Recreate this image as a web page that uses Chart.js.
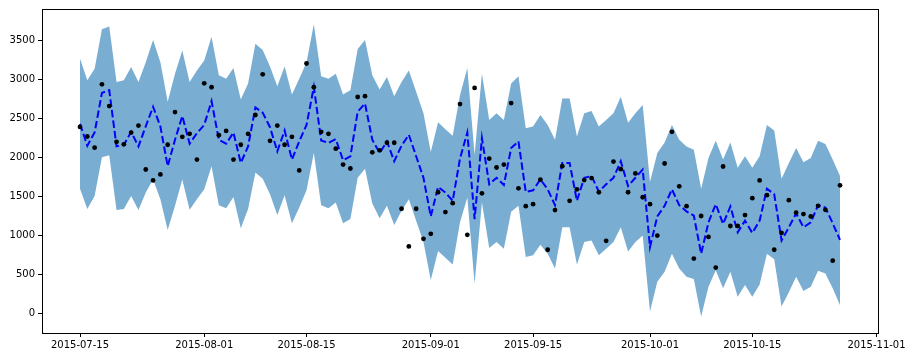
<!DOCTYPE html>
<html>
<head>
<meta charset="utf-8">
<title>Forecast</title>
<script src="https://cdn.jsdelivr.net/npm/chart.js@4.4.0/dist/chart.umd.min.js"></script>
<style>
  html, body { margin: 0; padding: 0; background: #fff; }
</style>
</head>
<body>
<canvas id="forecastChart" width="916" height="361"></canvas>
<script>
// Daily values, day 0 = 2015-07-15
const actual = [
  2391, 2268, 2124, 2938, 2658, 2200, 2167, 2319, 2408, 1844,
  1704, 1781, 2162, 2582, 2264, 2302, 1972, 2951, 2900, 2285,
  2340, 1972, 2162, 2302, 2544, 3066, 2213, 2408, 2162, 2264,
  1832, 3205, 2900, 2328, 2302, 2112, 1908, 1857, 2775, 2786,
  2065, 2090, 2188, 2188, 1340, 856, 1340, 954, 1018, 1552,
  1297, 1412, 2684, 1005, 2892, 1539, 1984, 1870, 1908, 2697,
  1603, 1374, 1399, 1713, 814, 1323, 1887, 1442, 1590, 1709,
  1734, 1552, 929, 1946, 1849, 1552, 1794, 1488, 1399, 996,
  1921, 2328, 1628, 1374, 700, 1247, 979, 585, 1883, 1119,
  1119, 1259, 1476, 1704, 1514, 814, 1030, 1450, 1290, 1272,
  1242, 1378, 1327, 674, 1641
];

const predicted = [
  2430, 2150, 2319, 2828, 2862, 2141, 2162, 2328, 2141, 2400,
  2650, 2396, 1887, 2226, 2531, 2175, 2311, 2417, 2722, 2226,
  2175, 2319, 1929, 2141, 2640, 2574, 2387, 2078, 2345, 1972,
  2205, 2417, 2904, 2218, 2184, 2234, 1963, 2014, 2586, 2692,
  2226, 2056, 2205, 1950, 2150, 2290, 2014, 1738, 1242, 1620,
  1548, 1442, 1985, 2319, 1208, 2247, 1654, 1738, 1645, 2120,
  2205, 1556, 1577, 1717, 1590, 1386, 1929, 1929, 1442, 1738,
  1760, 1560, 1654, 1738, 1950, 1632, 1738, 1844, 848, 1242,
  1378, 1590, 1386, 1306, 1251, 763, 1166, 1399, 1145, 1370,
  1039, 1187, 1030, 1187, 1598, 1526, 933, 1102, 1280, 1102,
  1166, 1386, 1357, 1153, 941
];

const upper = [
  3265, 2989, 3138, 3646, 3680, 2968, 2989, 3159, 2968, 3222,
  3506, 3222, 2714, 3074, 3371, 2968, 3116, 3244, 3549, 3053,
  3010, 3146, 2743, 2947, 3460, 3379, 3167, 2913, 3167, 2807,
  3010, 3222, 3710, 3040, 3010, 3074, 2807, 2862, 3392, 3506,
  3053, 2870, 3032, 2786, 2968, 3116, 2841, 2565, 2069, 2451,
  2362, 2277, 2798, 3146, 2035, 3074, 2480, 2565, 2480, 2947,
  3040, 2374, 2396, 2544, 2417, 2226, 2756, 2756, 2268, 2565,
  2595, 2396, 2480, 2565, 2777, 2446, 2565, 2671, 1683, 2056,
  2192, 2417, 2226, 2141, 2099, 1598, 1993, 2213, 1972, 2192,
  1866, 2014, 1866, 2014, 2417, 2345, 1726, 1929, 2120, 1938,
  1993, 2213, 2171, 1972, 1760
];

const lower = [
  1598, 1336, 1505, 2001, 2027, 1323, 1336, 1505, 1323, 1548,
  1717, 1463, 1068, 1378, 1717, 1327, 1463, 1590, 1887, 1386,
  1348, 1492, 1090, 1336, 1805, 1726, 1526, 1259, 1514, 1153,
  1357, 1577, 2056, 1386, 1348, 1420, 1153, 1208, 1738, 1853,
  1408, 1217, 1378, 1132, 1314, 1463, 1187, 912, 424, 797,
  712, 623, 1166, 1484, 382, 1420, 835, 912, 827, 1302,
  1378, 721, 742, 878, 763, 572, 1102, 1102, 623, 912,
  933, 742, 827, 912, 1102, 793, 912, 996, 21, 403,
  530, 763, 572, 466, 437, -42, 339, 551, 318, 530,
  212, 360, 212, 369, 763, 691, 85, 267, 466, 284,
  339, 543, 509, 318, 106
];

const tickDays = [0, 17, 31, 48, 62, 78, 92, 109];
const tickLabels = [
  '2015-07-15', '2015-08-01', '2015-08-15', '2015-09-01',
  '2015-09-15', '2015-10-01', '2015-10-15', '2015-11-01'
];
const yTicks = [0, 500, 1000, 1500, 2000, 2500, 3000, 3500];

document.addEventListener('DOMContentLoaded', () => {
  initializeChart();
});

/**
 * Turn a daily series into {x, y} points
 */
function toPoints(values) {
  return values.map((v, i) => ({ x: i, y: v }));
}

/**
 * Box around the plot area, like matplotlib spines
 */
const framePlugin = {
  id: 'frame',
  afterDraw(chart) {
    const { ctx, chartArea } = chart;
    ctx.save();
    ctx.strokeStyle = '#000';
    ctx.lineWidth = 1;
    ctx.strokeRect(
      Math.round(chartArea.left) + 0.5,
      Math.round(chartArea.top) + 0.5,
      Math.round(chartArea.right - chartArea.left),
      Math.round(chartArea.bottom - chartArea.top)
    );
    ctx.restore();
  },
};

function initializeChart() {
  const ctx = document.getElementById('forecastChart').getContext('2d');

  new Chart(ctx, {
    type: 'line',
    data: {
      datasets: [
        {
          label: 'upper',
          data: toPoints(upper),
          fill: '+1',
          backgroundColor: 'rgba(31, 119, 180, 0.6)',
          borderColor: 'rgba(0, 0, 0, 0)',
          borderWidth: 0,
          pointRadius: 0,
          tension: 0,
          order: 3,
        },
        {
          label: 'lower',
          data: toPoints(lower),
          fill: false,
          borderColor: 'rgba(0, 0, 0, 0)',
          borderWidth: 0,
          pointRadius: 0,
          tension: 0,
          order: 3,
        },
        {
          label: 'predicted',
          data: toPoints(predicted),
          fill: false,
          borderColor: '#0000ff',
          borderWidth: 2,
          borderDash: [7.4, 3.2],
          pointRadius: 0,
          tension: 0,
          order: 2,
        },
        {
          label: 'actual',
          data: toPoints(actual),
          showLine: false,
          pointRadius: 2.4,
          pointBackgroundColor: '#000',
          pointBorderWidth: 0,
          order: 1,
        },
      ],
    },
    options: {
      responsive: false,
      animation: false,
      layout: {
        padding: { top: 7, right: 38, left: 0, bottom: 0 },
      },
      plugins: {
        legend: { display: false },
        tooltip: { enabled: false },
      },
      scales: {
        x: {
          type: 'linear',
          min: -5.2,
          max: 109.2,
          afterBuildTicks: (scale) => {
            scale.ticks = tickDays.map(v => ({ value: v }));
          },
          afterFit: (scale) => {
            scale.height = 28;
          },
          ticks: {
            autoSkip: false,
            maxRotation: 0,
            padding: 2,
            color: '#000',
            font: { family: 'DejaVu Sans', size: 10 },
            callback: (value) => {
              const idx = tickDays.indexOf(value);
              return idx >= 0 ? tickLabels[idx] : '';
            },
          },
          grid: {
            drawOnChartArea: false,
            drawTicks: true,
            tickLength: 4,
            tickColor: '#000',
          },
          border: { display: false },
        },
        y: {
          min: -255,
          max: 3905,
          afterBuildTicks: (scale) => {
            scale.ticks = yTicks.map(v => ({ value: v }));
          },
          afterFit: (scale) => {
            scale.width = 42;
          },
          ticks: {
            padding: 3,
            color: '#000',
            font: { family: 'DejaVu Sans', size: 10 },
            callback: (value) => String(value),
          },
          grid: {
            drawOnChartArea: false,
            drawTicks: true,
            tickLength: 4,
            tickColor: '#000',
          },
          border: { display: false },
        },
      },
    },
    plugins: [framePlugin],
  });
}
</script>
</body>
</html>
